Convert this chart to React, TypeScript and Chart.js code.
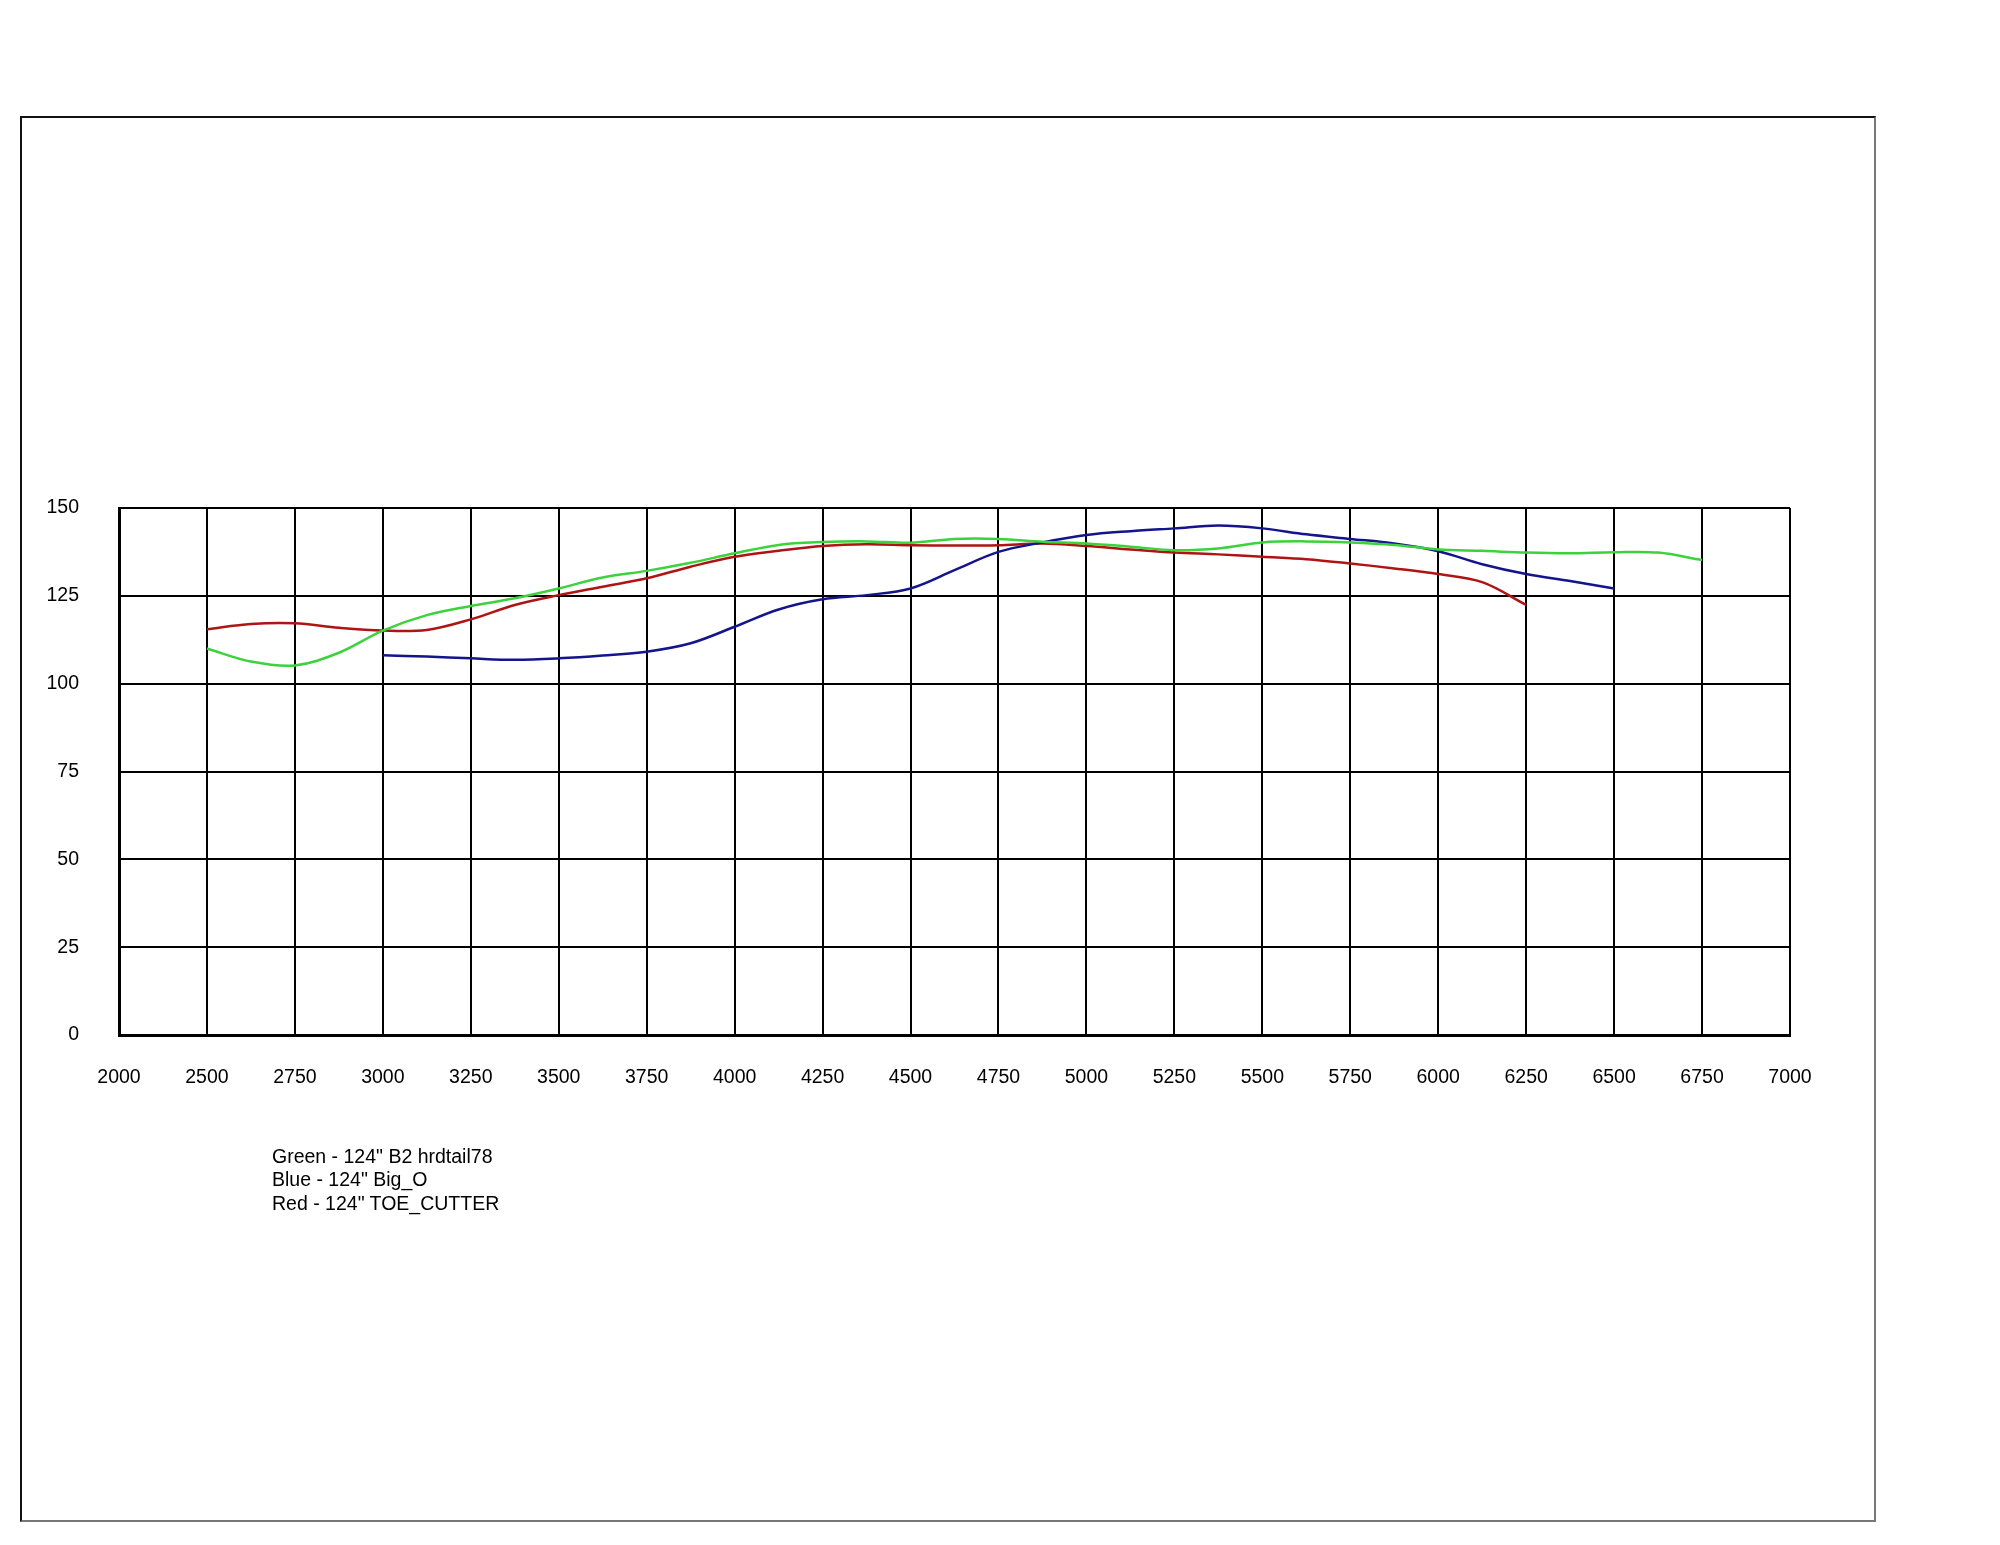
import React, { useEffect, useRef } from "react";
import { Chart, registerables } from "chart.js";

Chart.register(...registerables);

// Tick values (positions) and their printed labels
const xTickValues = [2250, 2500, 2750, 3000, 3250, 3500, 3750, 4000, 4250, 4500, 4750, 5000, 5250, 5500, 5750, 6000, 6250, 6500, 6750, 7000];
const xTickLabels = ["2000", "2500", "2750", "3000", "3250", "3500", "3750", "4000", "4250", "4500", "4750", "5000", "5250", "5500", "5750", "6000", "6250", "6500", "6750", "7000"];

// Green - 124" B2 hrdtail78
const greenRpm = [2500, 2625, 2750, 2875, 3000, 3125, 3250, 3375, 3500, 3625, 3750, 3875, 4000, 4125, 4250, 4375, 4500, 4625, 4750, 4875, 5000, 5125, 5250, 5375, 5500, 5625, 5750, 5875, 6000, 6125, 6250, 6375, 6500, 6625, 6750];
const greenValues = [110.0, 106.3, 105.2, 108.8, 115.1, 119.5, 122.1, 124.3, 127.1, 130.2, 132.1, 134.4, 137.1, 139.5, 140.3, 140.5, 140.1, 141.2, 141.2, 140.4, 139.9, 139.0, 138.0, 138.5, 140.2, 140.5, 140.2, 139.5, 138.2, 137.8, 137.3, 137.1, 137.4, 137.3, 135.2];

// Blue - 124" Big_O
const blueRpm = [3000, 3125, 3250, 3375, 3500, 3625, 3750, 3875, 4000, 4125, 4250, 4375, 4500, 4625, 4750, 4875, 5000, 5125, 5250, 5375, 5500, 5625, 5750, 5875, 6000, 6125, 6250, 6375, 6500];
const blueValues = [108.1, 107.7, 107.2, 106.8, 107.2, 108.0, 109.1, 111.5, 116.2, 121.1, 124.0, 125.2, 127.1, 132.3, 137.5, 140.2, 142.3, 143.4, 144.2, 145.0, 144.2, 142.5, 141.2, 139.9, 137.7, 134.0, 131.2, 129.2, 127.1];

// Red - 124" TOE_CUTTER
const redRpm = [2500, 2625, 2750, 2875, 3000, 3125, 3250, 3375, 3500, 3625, 3750, 3875, 4000, 4125, 4250, 4375, 4500, 4625, 4750, 4875, 5000, 5125, 5250, 5375, 5500, 5625, 5750, 5875, 6000, 6125, 6250];
const redValues = [115.5, 117.0, 117.2, 115.9, 115.1, 115.3, 118.3, 122.4, 125.2, 127.6, 130.0, 133.3, 136.1, 137.8, 139.2, 139.7, 139.4, 139.3, 139.4, 139.9, 139.2, 138.2, 137.3, 136.8, 136.1, 135.4, 134.2, 132.8, 131.2, 128.9, 122.4];

const legendLines = [
  'Green - 124" B2 hrdtail78',
  'Blue - 124" Big_O',
  'Red - 124" TOE_CUTTER',
];

const FONT = "'Liberation Sans', Arial, sans-serif";

const toPoints = (xs: number[], ys: number[]) => xs.map((x, i) => ({ x, y: ys[i] }));

export default function App() {
  const canvasRef = useRef<HTMLCanvasElement | null>(null);

  useEffect(() => {
    document.body.style.margin = "0";
    const canvas = canvasRef.current;
    if (!canvas) return;
    const chart = new Chart(canvas, {
      type: "line",
      data: {
        datasets: [
          {
            label: "Green",
            data: toPoints(greenRpm, greenValues),
            borderColor: "rgb(60,210,60)",
            borderWidth: 2.5,
            pointRadius: 0,
            tension: 0.35,
            fill: false,
          },
          {
            label: "Blue",
            data: toPoints(blueRpm, blueValues),
            borderColor: "rgb(20,20,140)",
            borderWidth: 2.5,
            pointRadius: 0,
            tension: 0.35,
            fill: false,
          },
          {
            label: "Red",
            data: toPoints(redRpm, redValues),
            borderColor: "rgb(175,20,20)",
            borderWidth: 2.5,
            pointRadius: 0,
            tension: 0.35,
            fill: false,
          },
        ],
      },
      options: {
        responsive: false,
        animation: false,
        events: [],
        layout: { padding: { left: 0, top: 508, right: 210, bottom: 0 } },
        plugins: {
          legend: { display: false },
          tooltip: { enabled: false },
          title: { display: false },
        },
        scales: {
          x: {
            type: "linear",
            min: 2250,
            max: 7000,
            afterBuildTicks: (scale: any) => {
              scale.ticks = xTickValues.map((v) => ({ value: v }));
            },
            afterFit: (scale: any) => {
              scale.height = 510;
            },
            grid: { color: "#000", lineWidth: 2, drawTicks: false },
            border: { display: true, color: "#000", width: 3 },
            ticks: {
              padding: 31,
              color: "#000",
              font: { family: FONT, size: 19.5 },
              callback: (_v: any, i: number) => xTickLabels[i],
              maxRotation: 0,
              autoSkip: false,
            },
          },
          y: {
            type: "linear",
            min: 0,
            max: 150,
            afterFit: (scale: any) => {
              scale.width = 119;
            },
            grid: { color: "#000", lineWidth: 2, drawTicks: false },
            border: { display: true, color: "#000", width: 3 },
            ticks: {
              stepSize: 25,
              padding: 40,
              crossAlign: "near",
              color: "#000",
              font: { family: FONT, size: 19.5 },
            },
          },
        },
      },
    });
    return () => chart.destroy();
  }, []);

  return (
    <div style={{ position: "relative", width: 2000, height: 1545, background: "#fff", overflow: "hidden" }}>
      <div
        style={{
          position: "absolute",
          left: 20,
          top: 116,
          width: 1856,
          height: 1406,
          borderLeft: "2px solid #111",
          borderTop: "2px solid #111",
          borderRight: "2.5px solid #777",
          borderBottom: "2.5px solid #777",
          boxSizing: "border-box",
        }}
      />
      <canvas ref={canvasRef} width={2000} height={1545} style={{ position: "absolute", left: 0, top: 0, width: 2000, height: 1545 }} />
      <div
        style={{
          position: "absolute",
          left: 272,
          top: 1144.5,
          fontFamily: FONT,
          fontSize: 19.5,
          lineHeight: "23.7px",
          color: "#000",
          whiteSpace: "pre",
        }}
      >
        {legendLines.map((t, i) => (
          <div key={i}>{t}</div>
        ))}
      </div>
    </div>
  );
}
